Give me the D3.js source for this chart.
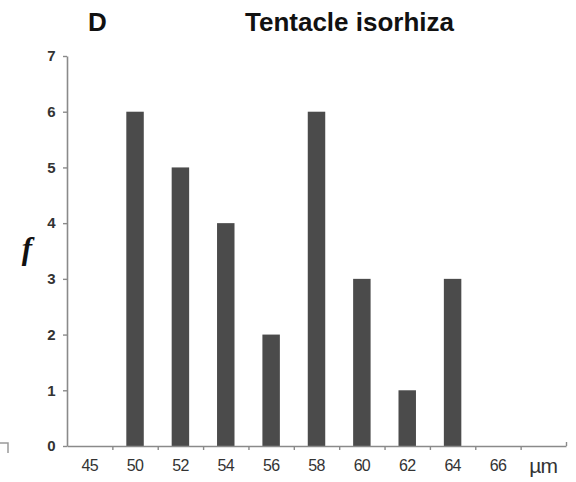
<!DOCTYPE html>
<html>
<head>
<meta charset="utf-8">
<script src="https://cdn.jsdelivr.net/npm/d3@7.9.0/dist/d3.min.js"></script>
<style>
  html, body { margin: 0; padding: 0; background: #fff; }
  svg { display: block; }
  .tick text { font-family: "Liberation Sans", Arial, sans-serif; fill: #333; letter-spacing: -0.7px; }
</style>
</head>
<body>
<svg id="chart" width="576" height="482"></svg>
<script>
// size classes (µm) and counts
const sizeLabels = ["45", "50", "52", "54", "56", "58", "60", "62", "64", "66"];
const counts = [0, 6, 5, 4, 2, 6, 3, 1, 3, 0];
const unitLabel = "µm";
const yTicks = [0, 1, 2, 3, 4, 5, 6, 7];

const width = 576, height = 482;
const margin = { top: 56, right: 10, bottom: 36, left: 67 };

const svg = d3.select("#chart");

// one extra band at the end holds the unit label
const bands = sizeLabels.concat([unitLabel]);

const x = d3.scaleBand()
  .domain(bands)
  .range([margin.left, width - margin.right])
  .paddingInner(0.615)
  .paddingOuter(0.3075);

// linear scale over band boundaries for the tick marks
const xEdge = d3.scaleLinear()
  .domain([0, bands.length])
  .range([margin.left, width - margin.right]);

const y = d3.scaleLinear()
  .domain([0, 7])
  .range([height - margin.bottom, margin.top]);

const axisColor = "#8a8a8a";

// bars
const data = sizeLabels.map((s, i) => ({ size: s, count: counts[i] }));
svg.append("g")
  .selectAll("rect")
  .data(data.filter(d => d.count > 0))
  .join("rect")
  .attr("x", d => x(d.size))
  .attr("width", x.bandwidth())
  .attr("y", d => y(d.count))
  .attr("height", d => y(0) - y(d.count))
  .attr("fill", "#4b4b4b");

// y axis
const yAxis = svg.append("g")
  .attr("transform", `translate(${margin.left},0)`)
  .call(d3.axisLeft(y).tickValues(yTicks).tickFormat(d3.format("d"))
    .tickSize(4).tickPadding(8).tickSizeOuter(0));
yAxis.select(".domain").attr("stroke", axisColor).attr("stroke-width", 1.6);
yAxis.selectAll(".tick line").attr("stroke", axisColor).attr("stroke-width", 1.4);
yAxis.selectAll(".tick text").attr("font-size", 15).attr("font-weight", "bold").attr("fill", "#444");

// x axis: tick marks at band edges
const xTicksG = svg.append("g")
  .attr("transform", `translate(0,${y(0)})`)
  .call(d3.axisBottom(xEdge).tickValues(d3.range(1, bands.length + 1)).tickSize(4).tickFormat("").tickSizeOuter(0));
xTicksG.select(".domain").attr("stroke", axisColor).attr("stroke-width", 1.6);
xTicksG.selectAll(".tick line").attr("stroke", axisColor).attr("stroke-width", 1.4);
// last tick turns up at the end of the axis
xTicksG.selectAll(".tick")
  .filter(d => d === bands.length)
  .select("line")
  .attr("y1", -4).attr("y2", 0);

// x labels centred in the bands
const xLabels = svg.append("g")
  .attr("transform", `translate(0,${y(0)})`)
  .call(d3.axisBottom(x).tickSize(0).tickPadding(14));
xLabels.select(".domain").remove();
xLabels.selectAll(".tick text")
  .attr("font-size", 16)
  .attr("fill", "#222")
  .filter(d => d === unitLabel)
  .attr("font-size", 21)
  .attr("letter-spacing", "0px")
  .attr("dy", "0.6em");

// y label
svg.append("text")
  .attr("x", 27)
  .attr("y", 259)
  .attr("text-anchor", "middle")
  .attr("font-family", "'Liberation Serif', 'DejaVu Serif', serif")
  .attr("font-style", "italic")
  .attr("font-weight", "bold")
  .attr("font-size", 31)
  .attr("fill", "#111")
  .text("f");

// panel letter and title
svg.append("text")
  .attr("x", 88)
  .attr("y", 31)
  .attr("font-family", "'Liberation Sans', Arial, sans-serif")
  .attr("font-weight", "bold")
  .attr("font-size", 26)
  .attr("fill", "#111")
  .text("D");

svg.append("text")
  .attr("x", 245)
  .attr("y", 31)
  .attr("font-family", "'Liberation Sans', Arial, sans-serif")
  .attr("font-weight", "bold")
  .attr("font-size", 26)
  .attr("fill", "#111")
  .text("Tentacle isorhiza");

// corner of the neighbouring panel
svg.append("path")
  .attr("d", "M0,443H8V453")
  .attr("fill", "none")
  .attr("stroke", "#9a9a9a")
  .attr("stroke-width", 1.5);
</script>
</body>
</html>
